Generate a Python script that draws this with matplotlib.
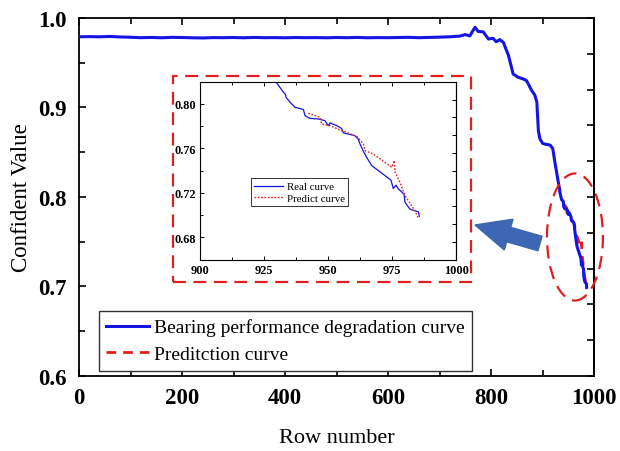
import numpy as np
import matplotlib
matplotlib.use("Agg")
import matplotlib.pyplot as plt
from matplotlib.patches import Rectangle, Ellipse, FancyArrow
from matplotlib.ticker import MultipleLocator, FormatStrFormatter

plt.rcParams['font.family'] = ['Liberation Serif', 'DejaVu Serif']

# ---------------- data ----------------
main_rows = [0, 20, 40, 60, 80, 100, 120, 140, 160, 180, 200, 220, 240, 260, 280,
             300, 320, 340, 360, 380, 400, 420, 440, 460, 480, 500, 520, 540, 560,
             580, 600, 620, 640, 660, 680, 700, 720, 740,
             750, 759, 765, 769, 775, 785, 795, 804, 810, 817, 824, 834, 843, 853,
             863, 869, 879, 885, 889, 892, 895, 900, 905, 915, 920, 924, 927]
main_vals = [0.9790, 0.9792, 0.9790, 0.9794, 0.9788, 0.9785, 0.9780, 0.9783, 0.9779,
             0.9784, 0.9782, 0.9779, 0.9777, 0.9781, 0.9780, 0.9782, 0.9779, 0.9783,
             0.9780, 0.9781, 0.9779, 0.9782, 0.9780, 0.9781, 0.9779, 0.9782, 0.9780,
             0.9783, 0.9779, 0.9781, 0.9780, 0.9782, 0.9784, 0.9780, 0.9783, 0.9786,
             0.9790, 0.9798,
             0.9815, 0.9800, 0.9860, 0.9896, 0.9850, 0.9845, 0.9765, 0.9773, 0.9735,
             0.9758, 0.9728, 0.9580, 0.9374, 0.9337, 0.9318, 0.9300, 0.9190, 0.9140,
             0.9060, 0.8740, 0.8650, 0.8600, 0.8590, 0.8580, 0.8540, 0.8390, 0.8290]

real_rows = [929.3, 932.6, 933.4, 933.6, 935.2, 937.1, 940.4, 941.0, 943.0, 946.2,
             948.8, 950.1, 950.8, 953.4, 955.3, 956.0, 960.5, 961.8, 962.5, 963.8,
             965.1, 967.1, 970.3, 974.6, 975.5, 976.6, 977.5, 979.7, 980.1, 982.0,
             985.3, 985.7]
real_vals = [0.8210, 0.8105, 0.8085, 0.8060, 0.8015, 0.7970, 0.7950, 0.7895, 0.7870,
             0.7865, 0.7850, 0.7805, 0.7830, 0.7805, 0.7780, 0.7740, 0.7715, 0.7685,
             0.7640, 0.7575, 0.7520, 0.7445, 0.7390, 0.7315, 0.7240, 0.7270, 0.7235,
             0.7190, 0.7115, 0.7055, 0.7030, 0.6990]

pred_rows = [942.3, 946.9, 947.5, 950.8, 955.3, 961.2, 963.8, 964.5, 967.7, 974.9,
             975.9, 976.2, 978.1, 980.1, 984.0, 985.3]
pred_vals = [0.7916, 0.7880, 0.7820, 0.7805, 0.7760, 0.7710, 0.7640, 0.7580, 0.7550,
             0.7430, 0.7490, 0.7385, 0.7295, 0.7175, 0.7040, 0.6970]

full_rows = main_rows + real_rows
full_vals = main_vals + real_vals

BLUE = '#1414E6'
RED = '#E02020'

# ---------------- figure ----------------
fig = plt.figure(figsize=(6.2, 4.52), dpi=100)
ax = fig.add_axes([79/620, 1-377/452, (594-79)/620, (377-19)/452])

ax.plot(full_rows, full_vals, color=BLUE, lw=2.2, label='Bearing performance degradation curve', zorder=3)
ax.plot(pred_rows, pred_vals, color=RED, lw=2.0, ls=(0, (3.5, 2.5)), label='Preditction curve', zorder=2)

ax.set_xlim(0, 1000)
ax.set_ylim(0.6, 1.0)
ax.xaxis.set_major_locator(MultipleLocator(200))
ax.xaxis.set_minor_locator(MultipleLocator(100))
ax.yaxis.set_major_locator(MultipleLocator(0.1))
ax.yaxis.set_minor_locator(MultipleLocator(0.05))
ax.yaxis.set_major_formatter(FormatStrFormatter('%.1f'))
ax.tick_params(which='both', direction='in', top=True, right=False, width=1.2, labelsize=16.5)
ax.tick_params(axis='x', pad=8)
ax.tick_params(axis='y', pad=9)
ax.tick_params(which='major', length=5)
ax.tick_params(which='minor', length=4)
for lab in ax.get_xticklabels() + ax.get_yticklabels():
    lab.set_fontweight('bold')
for sp in ax.spines.values():
    sp.set_linewidth(1.3)

sec = ax.secondary_yaxis('right')
sec.set_yticks([0.6, 0.64, 0.68, 0.72, 0.76, 0.8, 0.84, 0.88, 0.92, 0.96, 1.0])
sec.set_yticklabels([])
sec.tick_params(direction='in', length=5, width=1.2)
sec.spines['right'].set_linewidth(1.3)

ax.set_xlabel('Row number', fontsize=16)
ax.set_ylabel('Confident Value', fontsize=16.5)
ax.xaxis.set_label_coords(0.5, -0.145)
ax.yaxis.set_label_coords(-0.092, 0.5)

leg = ax.legend(loc='lower left', bbox_to_anchor=(0.038, 0.015), fontsize=14,
                frameon=True, fancybox=False, edgecolor='#333333', framealpha=1,
                handlelength=2.2, handletextpad=0.25, borderpad=0.4, labelspacing=0.45,
                borderaxespad=0)
leg.get_frame().set_linewidth(1.0)

# ellipse around prediction region
ell = Ellipse((963, 0.7553), 108.7, 0.142, fill=False, edgecolor=RED, lw=1.6,
              ls=(0, (6, 3.5)), clip_on=False, zorder=4)
ax.add_patch(ell)

# dashed rectangle around inset
rect = Rectangle((172.7/620, 1-283.3/452), (470.7-172.7)/620, (283.3-77.3)/452,
                 transform=fig.transFigure, fill=False, edgecolor=RED, lw=1.6,
                 ls=(0, (5.8, 3.4)), zorder=5)
fig.patches.append(rect)

# blue arrow (in inches via dpi_scale_trans)
arr = FancyArrow(5.40, 2.075, -0.65, 0.185, width=0.15, head_width=0.32, head_length=0.35,
                 length_includes_head=True, color='#3D66B3', transform=fig.dpi_scale_trans,
                 zorder=6)
fig.patches.append(arr)

# ---------------- inset ----------------
axi = fig.add_axes([200/620, 1-260.7/452, 256/620, 178/452])
axi.plot(real_rows, real_vals, color=BLUE, lw=0.9, label='Real curve')
axi.plot(pred_rows, pred_vals, color=RED, lw=1.0, ls=(0, (1.2, 1.2)), label='Predict curve')
axi.set_xlim(900, 1000)
axi.set_ylim(0.66, 0.82)
axi.xaxis.set_major_locator(MultipleLocator(25))
axi.xaxis.set_minor_locator(MultipleLocator(12.5))
axi.yaxis.set_major_locator(MultipleLocator(0.04))
axi.yaxis.set_minor_locator(MultipleLocator(0.02))
axi.yaxis.set_major_formatter(FormatStrFormatter('%.2f'))
axi.tick_params(which='both', direction='in', top=True, right=False, width=0.7,
                labelsize=8.8, pad=3)
axi.tick_params(which='major', length=3)
axi.tick_params(which='minor', length=2)
for lab in axi.get_xticklabels() + axi.get_yticklabels():
    lab.set_fontweight('bold')
for sp in axi.spines.values():
    sp.set_linewidth(0.8)
seci = axi.secondary_yaxis('right')
seci.set_yticks([0.66, 0.676, 0.692, 0.708, 0.724, 0.74, 0.756, 0.772, 0.788, 0.804, 0.82])
seci.set_yticklabels([])
seci.tick_params(direction='in', length=3, width=0.7)
seci.spines['right'].set_linewidth(0.8)

legi = axi.legend(loc='lower left', bbox_to_anchor=(0.2, 0.30), fontsize=7.8,
                  frameon=True, fancybox=False, edgecolor='#333333', framealpha=1,
                  handlelength=2.6, handletextpad=0.4, borderpad=0.3, labelspacing=0.2,
                  borderaxespad=0)
legi.get_frame().set_linewidth(0.7)

fig.savefig('out.png', dpi=100)
